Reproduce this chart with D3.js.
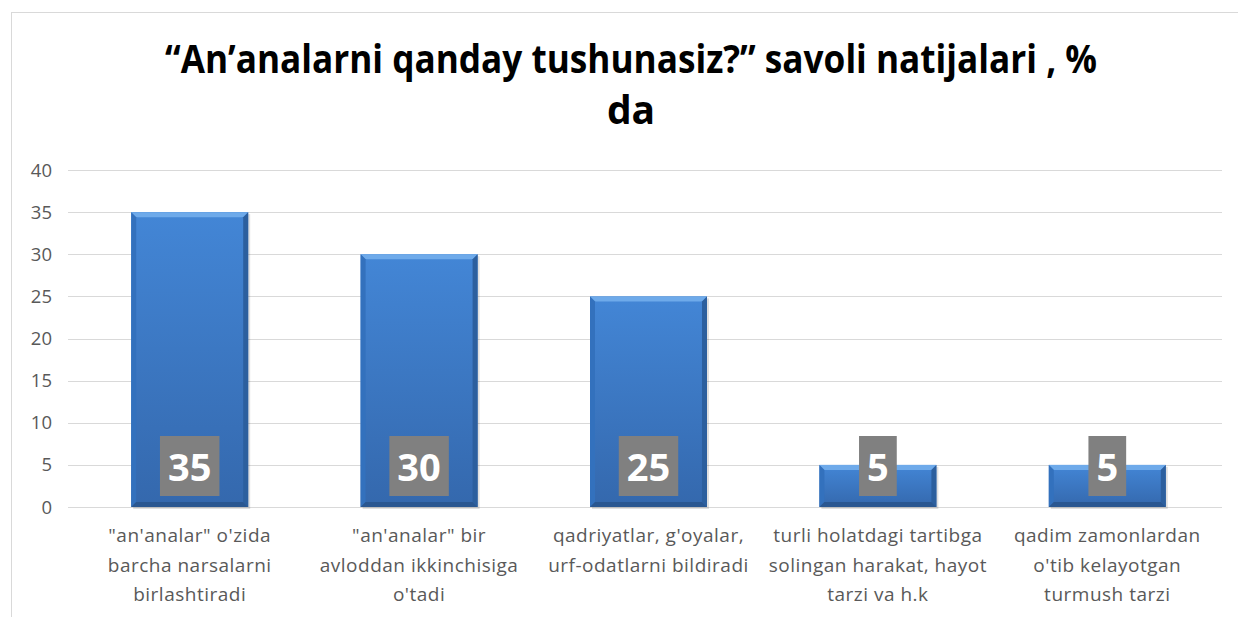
<!DOCTYPE html>
<meta charset="utf-8">
<head>
  <title>An'analar chart</title>
</head>
<style>
body { margin: 0; background: #fff; font-family: "Open Sans", sans-serif; }
.grid line { stroke: #d9d9d9; stroke-width: 1; }
.tick-label { fill: #595959; font-size: 18.5px; }
.cat-label { fill: #595959; font-size: 19px; letter-spacing: 0.5px; }
</style>
<body>
<svg id="chart" width="1238" height="617"></svg>
<script src="https://cdnjs.cloudflare.com/ajax/libs/d3/7.8.5/d3.min.js"></script>
<script>
// data
var categories = [
  ['"an\'analar" o\'zida', 'barcha narsalarni', 'birlashtiradi'],
  ['"an\'analar" bir', 'avloddan ikkinchisiga', 'o\'tadi'],
  ['qadriyatlar, g\'oyalar,', 'urf-odatlarni bildiradi'],
  ['turli holatdagi tartibga', 'solingan harakat, hayot', 'tarzi va h.k'],
  ['qadim zamonlardan', 'o\'tib kelayotgan', 'turmush tarzi']
];
var values = [35, 30, 25, 5, 5];
var yTicks = [0, 5, 10, 15, 20, 25, 30, 35, 40];
var titleLines = ['\u201CAn\u2019analarni qanday tushunasiz?\u201D savoli natijalari , %', 'da'];

var svg = d3.select('#chart');

// chart frame
svg.append('rect')
  .attr('x', 11.5).attr('y', 12.5)
  .attr('width', 1240).attr('height', 620)
  .attr('fill', '#fff').attr('stroke', '#d9d9d9');

var x = d3.scaleBand()
  .domain(d3.range(categories.length))
  .range([75, 1222])
  .paddingInner(0.49).paddingOuter(0.245);

var y = d3.scaleLinear().domain([0, 40]).range([507, 170]);

// gradients
var defs = svg.append('defs');
var g1 = defs.append('linearGradient').attr('id', 'barGrad')
  .attr('x1', 0).attr('y1', 0).attr('x2', 0).attr('y2', 1);
g1.append('stop').attr('offset', '0%').attr('stop-color', '#4386d6');
g1.append('stop').attr('offset', '100%').attr('stop-color', '#3468ad');

// gridlines
svg.append('g').attr('class', 'grid')
  .selectAll('line').data(yTicks).enter().append('line')
  .attr('x1', 68).attr('x2', 1222)
  .attr('y1', d => Math.round(y(d)) + 0.5)
  .attr('y2', d => Math.round(y(d)) + 0.5);

svg.append('g').selectAll('text').data(yTicks).enter().append('text')
  .attr('class', 'tick-label')
  .attr('x', 52).attr('y', d => y(d) + 6.5)
  .attr('text-anchor', 'end')
  .text(d => d);

// bars
var bars = svg.append('g').selectAll('g').data(values).enter().append('g');
var bev = 5;

bars.append('rect')
  .attr('x', (d, i) => x(i) + 2).attr('y', d => y(d) + 2)
  .attr('width', x.bandwidth()).attr('height', d => y(0) - y(d))
  .attr('fill', '#000').attr('opacity', 0.12);

bars.append('rect')
  .attr('x', (d, i) => x(i)).attr('y', d => y(d))
  .attr('width', x.bandwidth()).attr('height', d => y(0) - y(d))
  .attr('fill', 'url(#barGrad)');

// bevel edges
function bevel(side, color) {
  bars.append('path')
    .attr('fill', color)
    .attr('d', (d, i) => {
      var x0 = x(i), x1 = x(i) + x.bandwidth(), y0 = y(d), y1 = y(0);
      var b = Math.min(bev, (y1 - y0) / 2);
      if (side === 'top') return `M${x0},${y0}L${x1},${y0}L${x1 - b},${y0 + b}L${x0 + b},${y0 + b}Z`;
      if (side === 'left') return `M${x0},${y0}L${x0 + b},${y0 + b}L${x0 + b},${y1 - b}L${x0},${y1}Z`;
      if (side === 'right') return `M${x1},${y0}L${x1},${y1}L${x1 - b},${y1 - b}L${x1 - b},${y0 + b}Z`;
      return `M${x0},${y1}L${x0 + b},${y1 - b}L${x1 - b},${y1 - b}L${x1},${y1}Z`;
    });
}
bevel('top', '#6eaaea');
bevel('left', '#3371bd');
bevel('right', '#2c5f9e');
bevel('bottom', '#2a5791');

// data labels
var labels = svg.append('g').selectAll('g').data(values).enter().append('g');
labels.append('text')
  .attr('x', (d, i) => x(i) + x.bandwidth() / 2)
  .attr('y', 481)
  .attr('text-anchor', 'middle')
  .attr('fill', '#fff')
  .attr('font-weight', 'bold')
  .attr('font-size', '38px')
  .text(d => d)
  .each(function () {
    var bb = this.getBBox();
    var w = bb.width + 16;
    d3.select(this.parentNode).insert('rect', 'text')
      .attr('x', bb.x + bb.width / 2 - w / 2).attr('y', 436)
      .attr('width', w).attr('height', 60)
      .attr('fill', '#808080');
  });

// category labels
var cats = svg.append('g').selectAll('text').data(categories).enter().append('text')
  .attr('class', 'cat-label')
  .attr('text-anchor', 'middle');
cats.selectAll('tspan').data((d, i) => d.map(t => ({ t: t, i: i }))).enter().append('tspan')
  .attr('x', d => x(d.i) + x.bandwidth() / 2)
  .attr('y', (d, j) => 542 + j * 29.5)
  .text(d => d.t);

// title
svg.append('g').selectAll('text').data(titleLines).enter().append('text')
  .attr('x', 631).attr('y', (d, i) => 73 + i * 51)
  .attr('text-anchor', 'middle')
  .attr('font-weight', 'bold')
  .attr('font-size', '39px')
  .attr('fill', '#000')
  .text(d => d)
  .each(function (d, i) {
    if (i === 0) {
      d3.select(this).attr('textLength', 932).attr('lengthAdjust', 'spacingAndGlyphs');
    }
  });
</script>
</body>
</html>
